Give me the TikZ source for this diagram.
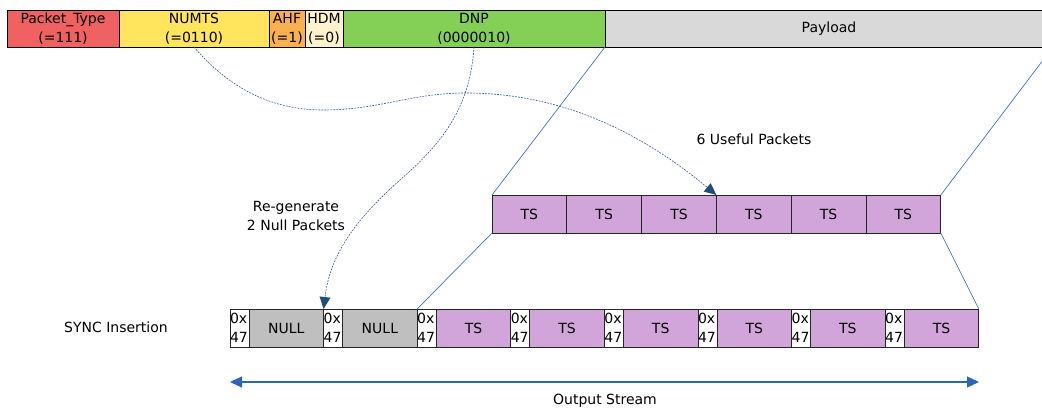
\documentclass[tikz,border=0pt]{standalone}
\usepackage{fontspec}
\setmainfont{DejaVu Sans}
\usetikzlibrary{arrows.meta}
\definecolor{cPT}{RGB}{240,98,98}
\definecolor{cNUM}{RGB}{255,228,94}
\definecolor{cAHF}{RGB}{248,176,80}
\definecolor{cHDM}{RGB}{255,242,204}
\definecolor{cDNP}{RGB}{132,208,86}
\definecolor{cPAY}{RGB}{217,217,217}
\definecolor{cTS}{RGB}{209,165,217}
\definecolor{cNULL}{RGB}{191,191,191}
\definecolor{cLine}{RGB}{68,114,196}
\definecolor{cDash}{RGB}{47,85,151}
\definecolor{cTip}{RGB}{31,78,121}
\definecolor{cOut}{RGB}{46,100,180}
\begin{document}
\begin{tikzpicture}[x=1pt,y=-1pt,
  every node/.style={font=\fontsize{14}{19}\selectfont, inner sep=0pt, outer sep=0pt},
  field/.style={draw=black, line width=0.8pt, anchor=north west, minimum height=37pt, align=center},
  tsbox/.style={draw=black!85, line width=0.8pt, anchor=north west, minimum height=38pt, minimum width=74.8pt, fill=cTS},
  syncbox/.style={draw=black!85, line width=0.8pt, anchor=north west, minimum height=38pt, text width=19pt, align=left, fill=white},
  pktbox/.style={draw=black!85, line width=0.8pt, anchor=north west, minimum height=38pt, minimum width=74.6pt},
  link/.style={draw=cLine, line width=0.7pt},
  curvearrow/.style={draw=cDash, line width=0.6pt, dash pattern=on 1.8pt off 1.2pt, -{Triangle[length=12pt,width=11pt,fill=cTip,color=cTip,line width=0pt]}},
  outarrow/.style={draw=cOut, line width=1.1pt, {Triangle[length=12pt,width=11pt]}-{Triangle[length=12pt,width=11pt]}}
]
\clip (0,0) rectangle (1042,411);
% top header
\node[field, fill=cPT, minimum width=112pt] (ptype) at (7,10) {Packet\_Type\\(=111)};
\node[field, fill=cNUM, minimum width=150pt] (numts) at (119,10) {NUMTS\\(=0110)};
\node[field, fill=cAHF, minimum width=36pt] (ahf) at (269,10) {AHF\\(=1)};
\node[field, fill=cHDM, minimum width=38pt] (hdm) at (305,10) {HDM\\(=0)};
\node[field, fill=cDNP, minimum width=262pt] (dnp) at (343,10) {DNP\\(0000010)};
\node[field, fill=cPAY, minimum width=448pt] (pay) at (605,10) {Payload};
% middle TS row
\node[tsbox] (t1) at (492,195) {TS};
\node[tsbox] (t2) at (566.8,195) {TS};
\node[tsbox] (t3) at (641.6,195) {TS};
\node[tsbox] (t4) at (716.4,195) {TS};
\node[tsbox] (t5) at (791.2,195) {TS};
\node[tsbox] (t6) at (866,195) {TS};
% bottom stream
\node[syncbox] (s1) at (230,309) {0x\\47};
\node[pktbox, fill=cNULL] (p1) at (249,309) {NULL};
\node[syncbox] (s2) at (323.6,309) {0x\\47};
\node[pktbox, fill=cNULL] (p2) at (342.6,309) {NULL};
\node[syncbox] (s3) at (417.2,309) {0x\\47};
\node[pktbox, fill=cTS] (p3) at (436.2,309) {TS};
\node[syncbox] (s4) at (510.8,309) {0x\\47};
\node[pktbox, fill=cTS] (p4) at (529.8,309) {TS};
\node[syncbox] (s5) at (604.4,309) {0x\\47};
\node[pktbox, fill=cTS] (p5) at (623.4,309) {TS};
\node[syncbox] (s6) at (698,309) {0x\\47};
\node[pktbox, fill=cTS] (p6) at (717,309) {TS};
\node[syncbox] (s7) at (791.6,309) {0x\\47};
\node[pktbox, fill=cTS] (p7) at (810.6,309) {TS};
\node[syncbox] (s8) at (885.2,309) {0x\\47};
\node[pktbox, fill=cTS] (p8) at (904.2,309) {TS};
% labels
\node (useful) at (754,139) {6 Useful Packets};
\node[align=center] (regen) at (296,216) {Re-generate\\2 Null Packets};
\node (sync) at (116,327) {SYNC Insertion};
\node (outlbl) at (605,401) {Output Stream};
% connector lines
\draw[link] (dnp.south east) -- (t1.north west);
\draw[link] (pay.south east) -- (t6.north east);
\draw[link] (t1.south west) -- (s3.north west);
\draw[link] (t6.south east) -- (p8.north east);
% dashed curves
\draw[curvearrow] (numts.south) .. controls (235,95) and (280,110) .. (323,110)
  .. controls (380,110) and (410,93) .. (466,93)
  .. controls (570,93) and (650,140) .. (t3.north east);
\draw[curvearrow] (dnp.south) .. controls (470,110) and (440,145) .. (400,180)
  .. controls (355,220) and (330,255) .. (p1.north east);
% output stream arrow
\coordinate (oL) at (230,382);
\coordinate (oR) at (979,382);
\draw[outarrow] (oL) -- (oR);
\end{tikzpicture}
\end{document}
